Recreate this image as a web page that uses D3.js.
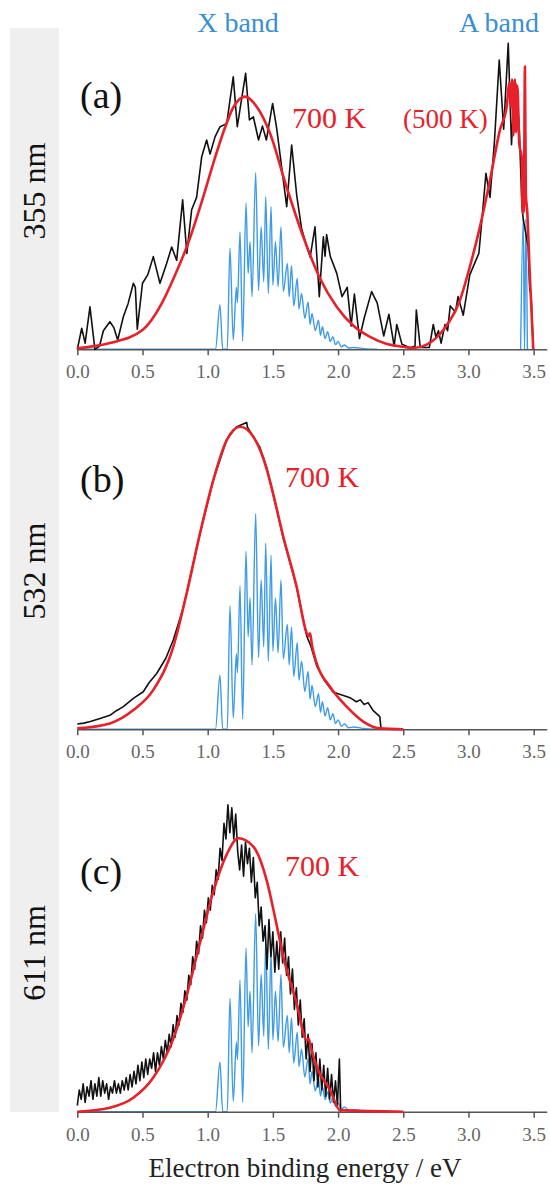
<!DOCTYPE html>
<html><head><meta charset="utf-8">
<script src="https://cdn.jsdelivr.net/npm/d3@7"></script>
<style>body{margin:0;background:#fff} svg{display:block}</style>
</head><body>
<svg id="chart" width="550" height="1185"></svg>
<script>
// ---------- data ----------
const xTicks = [0, 0.5, 1.0, 1.5, 2.0, 2.5, 3.0, 3.5];
const panelLetters = ["(a)", "(b)", "(c)"];
const wavelengths = ["355 nm", "532 nm", "611 nm"];
const tempLabels = ["700 K", "700 K", "700 K"];
const bandLabels = ["X band", "A band"];
const xTitle = "Electron binding energy / eV";

// simulated X-band stick spectrum (blue), eV vs relative intensity
const blueX = [[0,0],[1.06,0],[1.094,0.143],[1.115,0],[1.15,0],[1.171,0.326],[1.196,0.03],[1.22,0.2],[1.228,0.15],[1.248,0.379],[1.268,0.027],[1.294,0.471],[1.31,0.245],[1.325,0.347],[1.34,0.17],[1.368,0.57],[1.39,0.19],[1.41,0.395],[1.43,0.218],[1.445,0.492],[1.465,0.18],[1.486,0.46],[1.5,0.207],[1.52,0.347],[1.54,0.202],[1.562,0.395],[1.58,0.186],[1.611,0.277],[1.625,0.17],[1.643,0.27],[1.66,0.14],[1.687,0.229],[1.70,0.13],[1.72,0.18],[1.745,0.1],[1.77,0.153],[1.785,0.08],[1.8,0.116],[1.825,0.06],[1.85,0.094],[1.865,0.045],[1.88,0.073],[1.9,0.035],[1.92,0.057],[1.94,0.025],[1.96,0.041],[1.98,0.015],[2.0,0.025],[2.025,0.008],[2.05,0.014],[2.08,0.004],[2.12,0.006],[2.2,0.002],[2.3,0]];
// simulated A-band sticks (panel a only)
const blueA = [[3.40,0],[3.42,0.42],[3.43,0],[3.44,0.42],[3.452,0]];
const blueGain = [1.0, 1.22, 1.12];

// experimental spectra (black)
const blackA = [[0,0],[0.034,0.068],[0.06,0.02],[0.097,0.137],[0.135,0.0],[0.17,0.01],[0.2,0.06],[0.25,0.089],[0.28,0.07],[0.31,0.03],[0.353,0.105],[0.39,0.148],[0.43,0.213],[0.445,0.2],[0.46,0.065],[0.5,0.213],[0.54,0.24],[0.583,0.299],[0.634,0.213],[0.685,0.277],[0.724,0.33],[0.762,0.287],[0.808,0.482],[0.84,0.309],[0.877,0.45],[0.915,0.49],[0.954,0.621],[0.992,0.675],[1.018,0.63],[1.057,0.686],[1.095,0.718],[1.146,0.728],[1.196,0.879],[1.227,0.718],[1.291,0.89],[1.32,0.74],[1.35,0.75],[1.39,0.675],[1.42,0.72],[1.45,0.675],[1.498,0.793],[1.53,0.71],[1.58,0.546],[1.606,0.46],[1.644,0.659],[1.683,0.496],[1.72,0.39],[1.76,0.331],[1.786,0.298],[1.823,0.395],[1.856,0.17],[1.887,0.363],[1.9,0.3],[1.912,0.37],[1.94,0.30],[1.99,0.245],[2.03,0.17],[2.07,0.2],[2.1,0.075],[2.125,0.178],[2.164,0.035],[2.2,0.1],[2.257,0.186],[2.3,0.15],[2.35,0.043],[2.39,0.113],[2.43,0.01],[2.45,0.08],[2.49,0.016],[2.55,0.005],[2.59,0.01],[2.6,0.127],[2.63,0.006],[2.7,0.006],[2.73,0.08],[2.75,0.04],[2.77,0.06],[2.79,0.02],[2.82,0.08],[2.84,0.06],[2.86,0.14],[2.9,0.12],[2.92,0.17],[2.96,0.11],[3.01,0.24],[3.06,0.29],[3.08,0.31],[3.11,0.45],[3.134,0.568],[3.165,0.49],[3.19,0.62],[3.2,0.675],[3.236,0.933],[3.27,0.71],[3.305,0.987],[3.33,0.66],[3.355,0.87],[3.37,0.84],[3.39,0.71],[3.41,0.46],[3.42,0.42],[3.458,0.33],[3.47,0.19],[3.48,0.18],[3.497,0]];
const blackB = [[0,0.017],[0.05,0.02],[0.1,0.025],[0.175,0.035],[0.25,0.045],[0.3,0.06],[0.353,0.073],[0.43,0.1],[0.506,0.121],[0.55,0.15],[0.609,0.18],[0.68,0.23],[0.736,0.288],[0.8,0.374],[0.839,0.44],[0.941,0.632],[1.043,0.804],[1.146,0.935],[1.22,0.975],[1.299,0.99],[1.305,0.975],[1.35,0.944],[1.40,0.91],[1.452,0.845],[1.478,0.80],[1.53,0.71],[1.58,0.615],[1.63,0.54],[1.682,0.46],[1.72,0.38],[1.76,0.30],[1.79,0.27],[1.836,0.205],[1.9,0.155],[1.96,0.121],[2.0,0.115],[2.07,0.105],[2.1,0.1],[2.14,0.089],[2.17,0.095],[2.2,0.08],[2.23,0.086],[2.27,0.06],[2.32,0.041],[2.33,0.0]];
const blackCx = [0,0.015,0.03,0.045,0.06,0.075,0.09,0.105,0.12,0.135,0.15,0.165,0.18,0.195,0.21,0.225,0.24,0.255,0.27,0.285,0.3,0.315,0.33,0.345,0.36,0.375,0.39,0.405,0.42,0.435,0.45,0.465,0.48,0.495,0.51,0.525,0.54,0.555,0.57,0.585,0.6,0.615,0.63,0.645,0.66,0.675,0.69,0.705,0.72,0.735,0.75,0.765,0.78,0.795,0.81,0.825,0.84,0.855,0.87,0.885,0.9,0.915,0.93,0.945,0.96,0.975,0.99,1.005,1.02,1.035,1.05,1.065,1.08,1.095,1.11,1.125,1.14,1.155,1.17,1.185,1.2,1.215,1.23,1.245,1.26,1.275,1.29,1.305,1.32,1.335,1.35,1.365,1.38,1.395,1.41,1.425,1.44,1.455,1.47,1.485,1.5,1.515,1.53,1.545,1.56,1.575,1.59,1.605,1.62,1.635,1.65,1.665,1.68,1.695,1.71,1.725,1.74,1.755,1.77,1.785,1.8,1.815,1.83,1.845,1.86,1.875,1.89,1.905,1.92,1.935,1.95,1.965,1.98,1.995,2.01,2.02];
const blackCy = [0.02,0.07,0.04,0.09,0.03,0.08,0.05,0.10,0.04,0.09,0.05,0.11,0.05,0.10,0.06,0.09,0.04,0.08,0.06,0.10,0.06,0.09,0.06,0.10,0.07,0.11,0.07,0.12,0.08,0.13,0.09,0.15,0.10,0.16,0.11,0.17,0.12,0.17,0.14,0.19,0.13,0.19,0.15,0.21,0.17,0.23,0.19,0.25,0.21,0.28,0.24,0.31,0.28,0.35,0.32,0.39,0.36,0.44,0.41,0.50,0.46,0.55,0.51,0.60,0.56,0.65,0.61,0.69,0.65,0.73,0.70,0.78,0.75,0.85,0.81,0.93,0.88,0.99,0.90,0.98,0.88,0.96,0.84,0.78,0.86,0.76,0.87,0.80,0.85,0.74,0.82,0.69,0.74,0.60,0.66,0.55,0.60,0.46,0.62,0.50,0.58,0.45,0.55,0.46,0.58,0.48,0.56,0.44,0.50,0.38,0.46,0.33,0.40,0.28,0.36,0.24,0.30,0.17,0.25,0.13,0.22,0.10,0.19,0.08,0.17,0.07,0.15,0.05,0.14,0.04,0.12,0.03,0.10,0.02,0.17,0.0];

// simulated envelopes (red)
const redA = [[0,0.003],[0.25,0.02],[0.5,0.062],[0.65,0.15],[0.75,0.24],[0.85,0.342],[0.95,0.47],[1.043,0.6],[1.12,0.7],[1.196,0.78],[1.286,0.815],[1.38,0.78],[1.478,0.697],[1.6,0.53],[1.733,0.363],[1.86,0.23],[1.989,0.137],[2.12,0.075],[2.245,0.04],[2.37,0.018],[2.5,0.008],[2.58,0.004],[2.68,0.015],[2.807,0.062],[2.935,0.159],[3.011,0.267],[3.088,0.395],[3.165,0.546],[3.241,0.707],[3.293,0.783],[3.315,0.86],[3.325,0.78],[3.335,0.87],[3.345,0.69],[3.355,0.87],[3.365,0.70],[3.375,0.85],[3.39,0.66],[3.408,0.621],[3.415,0.439],[3.425,0.45],[3.433,0.912],[3.44,0.5],[3.45,0.45],[3.47,0.245],[3.497,0]];
const redB = [[0,0.003],[0.25,0.019],[0.43,0.062],[0.583,0.127],[0.736,0.266],[0.839,0.439],[0.941,0.632],[1.043,0.804],[1.146,0.933],[1.248,0.976],[1.35,0.944],[1.452,0.84],[1.478,0.80],[1.58,0.621],[1.682,0.46],[1.76,0.31],[1.775,0.3],[1.785,0.31],[1.80,0.27],[1.836,0.213],[1.938,0.137],[2.066,0.073],[2.193,0.025],[2.32,0.003],[2.5,0]];
const redC = [[0,0],[0.25,0.013],[0.43,0.045],[0.583,0.11],[0.736,0.235],[0.839,0.375],[0.941,0.545],[1.043,0.71],[1.146,0.83],[1.235,0.882],[1.35,0.855],[1.452,0.747],[1.52,0.62],[1.58,0.5],[1.682,0.35],[1.76,0.231],[1.775,0.235],[1.79,0.21],[1.836,0.145],[1.938,0.07],[2.015,0.005],[2.5,0]];

// ---------- drawing ----------
const svg = d3.select("#chart");
const serif = "'Liberation Serif','Times New Roman',Times,serif";
const RED = "#e8202a", BLUE = "#3d9be8", BLUE_T = "#3a8fd4";

const x = d3.scaleLinear().domain([0, 3.6]).range([77.3, 546.7]);
const baselines = [349.3, 729.3, 1111.7];
const H = 310;

// gray strip
svg.append("rect").attr("x", 10).attr("y", 28).attr("width", 49).attr("height", 1084).attr("fill", "#efefef");

const blackData = [blackA, blackB, blackCx.map((v, i) => [v, blackCy[i]])];
const redData = [redA, redB, redC];
const tempX = [292, 285, 285];

panelLetters.forEach((lab, i) => {
  const b = baselines[i];
  const y = d3.scaleLinear().domain([0, 1]).range([b, b - H]);
  const yB = d3.scaleLinear().domain([0, 1 / blueGain[i]]).range([b, b - H]);
  const g = svg.append("g");

  const lineB = d3.line().x(d => x(d[0])).y(d => yB(d[1])).curve(d3.curveMonotoneX);
  g.append("path").datum(blueX).attr("d", lineB).attr("fill", "none").attr("stroke", BLUE).attr("stroke-width", 1.4);
  if (i === 0) g.append("path").datum(blueA).attr("d", lineB).attr("fill", "none").attr("stroke", BLUE).attr("stroke-width", 1.4);

  // axis
  const ax = g.append("g").attr("transform", `translate(0,${b})`)
    .call(d3.axisBottom(x).tickValues(xTicks).tickFormat(d3.format(".1f")).tickSize(6).tickSizeOuter(0));
  ax.select(".domain").attr("stroke", "#555").attr("stroke-width", 1.6);
  ax.selectAll(".tick line").attr("stroke", "#555").attr("stroke-width", 1.5);
  ax.selectAll(".tick text").attr("font-family", serif).attr("font-size", 19).attr("fill", "#666").attr("dy", "1.05em");

  const lineK = d3.line().x(d => x(d[0])).y(d => y(d[1]));
  g.append("path").datum(blackData[i]).attr("d", lineK).attr("fill", "none").attr("stroke", "#111").attr("stroke-width", 1.6).attr("stroke-linejoin", "round");

  const lineR = d3.line().x(d => x(d[0])).y(d => y(d[1])).curve(d3.curveMonotoneX);
  g.append("path").datum(redData[i]).attr("d", lineR).attr("fill", "none").attr("stroke", RED).attr("stroke-width", 2.6).attr("stroke-linejoin", "round");

  // labels
  g.append("text").text(lab).attr("x", 80).attr("y", [108, 492, 884][i]).attr("font-family", serif).attr("font-size", 38).attr("fill", "#111");
  g.append("text").text(tempLabels[i]).attr("x", tempX[i]).attr("y", [128, 487, 876][i]).attr("font-family", serif).attr("font-size", 30).attr("fill", RED);
  g.append("text").text(wavelengths[i]).attr("transform", `translate(45,${[191, 571, 953][i]}) rotate(-90)`)
    .attr("text-anchor", "middle").attr("font-family", serif).attr("font-size", 32).attr("fill", "#111");
});

svg.append("text").text("(500 K)").attr("x", 403).attr("y", 128).attr("font-family", serif).attr("font-size", 27).attr("fill", RED);
svg.append("text").text(bandLabels[0]).attr("x", 238).attr("y", 32).attr("text-anchor", "middle").attr("font-family", serif).attr("font-size", 28).attr("fill", BLUE_T);
svg.append("text").text(bandLabels[1]).attr("x", 499).attr("y", 32).attr("text-anchor", "middle").attr("font-family", serif).attr("font-size", 28).attr("fill", BLUE_T);
svg.append("text").text(xTitle).attr("x", 305).attr("y", 1177).attr("text-anchor", "middle").attr("font-family", serif).attr("font-size", 27).attr("fill", "#222");
</script>
</body></html>
